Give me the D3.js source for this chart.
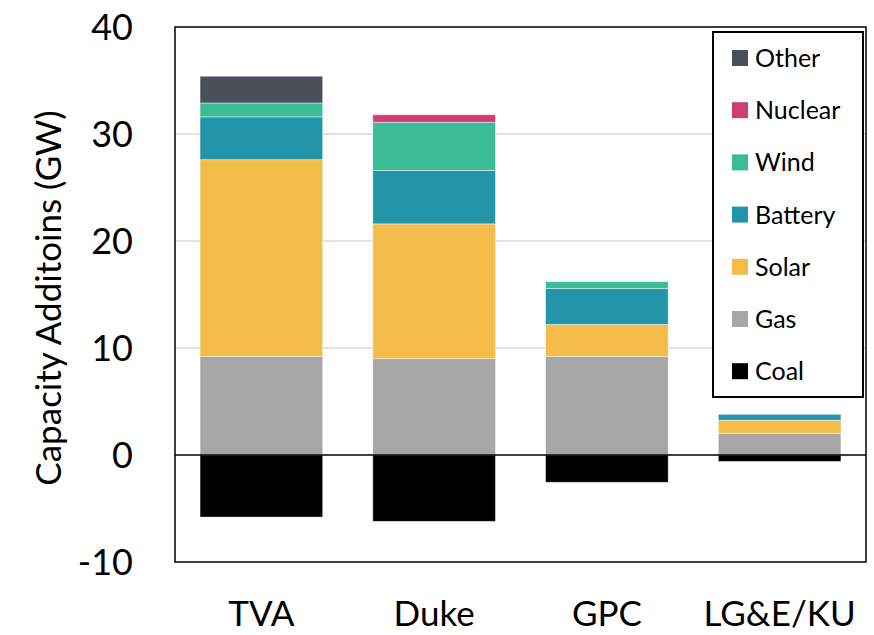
<!DOCTYPE html>
<html>
<head>
<meta charset="utf-8">
<script src="https://cdn.jsdelivr.net/npm/d3@7"></script>
<style>
  body { margin: 0; background: #fff; }
  svg { display: block; font-family: Lato, "Open Sans", sans-serif; }
</style>
</head>
<body>
<div id="chart"></div>
<script>
// Dati (GW)
const utilities = ["TVA", "Duke", "GPC", "LG&E/KU"];
const coal    = [-5.8, -6.2, -2.55, -0.6];
const gas     = [9.2, 9.0, 9.2, 2.0];
const solar   = [18.4, 12.6, 3.0, 1.25];
const battery = [4.0, 5.0, 3.35, 0.55];
const wind    = [1.3, 4.5, 0.65, 0];
const nuclear = [0, 0.7, 0, 0];
const other   = [2.5, 0, 0, 0];

const yTicks = [-10, 0, 10, 20, 30, 40];
const gridTicks = [10, 20, 30];

// ordine dal basso verso l'alto
const seriesKeys = ["Coal", "Gas", "Solar", "Battery", "Wind", "Nuclear", "Other"];
const seriesValues = { Coal: coal, Gas: gas, Solar: solar, Battery: battery, Wind: wind, Nuclear: nuclear, Other: other };
const colors = {
    Other: "#4a5059",
    Nuclear: "#cf3e72",
    Wind: "#3bbb96",
    Battery: "#2296a8",
    Solar: "#f4bd4b",
    Gas: "#a6a6a6",
    Coal: "#000000"
};
const legendKeys = ["Other", "Nuclear", "Wind", "Battery", "Solar", "Gas", "Coal"];

const WIDTH = 874;
const HEIGHT = 635;
const plot = { left: 175, right: 866, top: 27, bottom: 562 };

const rows = utilities.map((u, i) => {
    const r = { utility: u };
    seriesKeys.forEach(k => { r[k] = seriesValues[k][i]; });
    return r;
});

const stacked = d3.stack()
    .keys(seriesKeys)
    .offset(d3.stackOffsetDiverging)(rows);

const x = d3.scaleBand()
    .domain(utilities)
    .range([plot.left, plot.right])
    .paddingInner(0.29)
    .paddingOuter(0.145);

const y = d3.scaleLinear()
    .domain([-10, 40])
    .range([plot.bottom, plot.top]);

const svg = d3.select("#chart")
    .append("svg")
    .attr("width", WIDTH)
    .attr("height", HEIGHT);

// griglia
svg.append("g")
    .selectAll("line")
    .data(gridTicks)
    .enter()
    .append("line")
    .attr("x1", plot.left)
    .attr("x2", plot.right)
    .attr("y1", d => y(d))
    .attr("y2", d => y(d))
    .attr("stroke", "#d9d9d9")
    .attr("stroke-width", 1.5);

// barre impilate
svg.append("g")
    .selectAll("g")
    .data(stacked)
    .enter()
    .append("g")
    .attr("fill", d => colors[d.key])
    .selectAll("rect")
    .data(d => d.filter(s => s[1] - s[0] !== 0))
    .enter()
    .append("rect")
    .attr("x", d => x(d.data.utility))
    .attr("width", x.bandwidth())
    .attr("y", d => y(Math.max(d[0], d[1])))
    .attr("height", d => Math.abs(y(d[0]) - y(d[1])))
    .attr("stroke", "#ffffff")
    .attr("stroke-opacity", 0.55)
    .attr("stroke-width", 0.8);

// linea dello zero
svg.append("line")
    .attr("x1", plot.left)
    .attr("x2", plot.right)
    .attr("y1", y(0))
    .attr("y2", y(0))
    .attr("stroke", "#000")
    .attr("stroke-width", 1.5);

// cornice dell'area
svg.append("rect")
    .attr("x", plot.left)
    .attr("y", plot.top)
    .attr("width", plot.right - plot.left)
    .attr("height", plot.bottom - plot.top)
    .attr("fill", "none")
    .attr("stroke", "#000")
    .attr("stroke-width", 1.5);

// etichette asse y (trattino semplice come nell'originale)
const yAxis = d3.axisLeft(y)
    .tickValues(yTicks)
    .tickFormat(d => String(d))
    .tickSize(0)
    .tickPadding(0);
const yG = svg.append("g")
    .attr("transform", `translate(133,0)`)
    .call(yAxis);
yG.select(".domain").remove();
yG.selectAll("text")
    .attr("font-family", "Lato, sans-serif")
    .attr("font-size", 36)
    .attr("fill", "#000")
    .attr("dy", "0.35em");

// etichette asse x
const xAxis = d3.axisBottom(x).tickSize(0).tickPadding(0);
const xG = svg.append("g")
    .attr("transform", `translate(0,626)`)
    .call(xAxis);
xG.select(".domain").remove();
xG.selectAll("text")
    .attr("font-family", "Lato, sans-serif")
    .attr("font-size", 35)
    .attr("fill", "#000")
    .attr("dy", 0);

// titolo asse y
svg.append("text")
    .attr("transform", "translate(61,298) rotate(-90)")
    .attr("text-anchor", "middle")
    .attr("font-size", 35)
    .attr("fill", "#000")
    .text("Capacity Additoins (GW)");

// legenda
const legend = svg.append("g");
legend.append("rect")
    .attr("x", 713)
    .attr("y", 32)
    .attr("width", 150)
    .attr("height", 365)
    .attr("fill", "#fff")
    .attr("stroke", "#000")
    .attr("stroke-width", 2);

const items = legend.selectAll("g.item")
    .data(legendKeys)
    .enter()
    .append("g")
    .attr("class", "item")
    .attr("transform", (d, i) => `translate(732,${58 + i * 52.2})`);

items.append("rect")
    .attr("x", 0)
    .attr("y", -8)
    .attr("width", 16)
    .attr("height", 16)
    .attr("fill", d => colors[d]);

items.append("text")
    .attr("x", 23)
    .attr("y", 9)
    .attr("font-size", 25)
    .attr("fill", "#000")
    .text(d => d);
</script>
</body>
</html>
